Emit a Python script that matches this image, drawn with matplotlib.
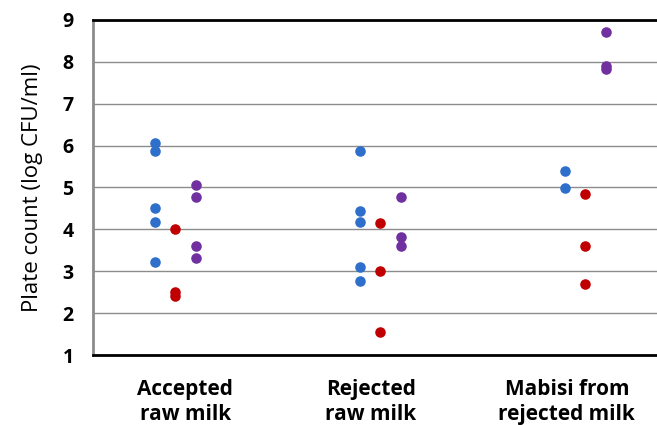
import matplotlib
matplotlib.use("Agg")
import matplotlib.pyplot as plt

categories = ["Accepted\nraw milk", "Rejected\nraw milk", "Mabisi from\nrejected milk"]
blue_vals = [
    [6.06, 5.88, 4.51, 4.18, 3.22],
    [5.88, 4.43, 4.18, 3.11, 2.77],
    [5.39, 4.98],
]
red_vals = [
    [4.02, 2.50, 2.42],
    [4.16, 3.00, 1.54],
    [4.84, 3.60, 2.69],
]
purple_vals = [
    [5.06, 4.78, 3.61, 3.32],
    [4.78, 3.81, 3.60],
    [8.72, 7.90, 7.83],
]
yticks = [1, 2, 3, 4, 5, 6, 7, 8, 9]

plt.rcParams['font.family'] = ['Open Sans', 'DejaVu Sans']

fig = plt.figure(figsize=(6.57, 4.25), dpi=100)
ax = fig.add_axes([0.1416, 0.1647, 0.8584, 0.953 - 0.1647])

series = [(blue_vals, "#2f6fcc", -0.1), (red_vals, "#c00000", 0.0), (purple_vals, "#7030a0", 0.1)]
for vals, color, off in series:
    for i, group in enumerate(vals):
        ax.plot([i + 1 + off] * len(group), group, 'o', color=color, ms=7.6,
                markeredgewidth=0, zorder=3, clip_on=False)

ax.set_ylim(1, 9)
ax.set_xlim(0.6, 3.35)
ax.set_yticks(yticks)
ax.set_yticklabels([str(t) for t in yticks], fontsize=14, fontweight='bold')
ax.yaxis.grid(True, color="#8c8c8c", linewidth=1.0)
ax.set_axisbelow(True)
ax.tick_params(axis='y', length=0, pad=14)
ax.tick_params(axis='x', length=0, pad=17)
ax.set_xticks([1.05, 1.955, 2.91])
ax.set_xticklabels(categories, fontsize=15, fontweight='bold', linespacing=1.3)

ax.spines['right'].set_visible(False)
ax.spines['top'].set_color('black')
ax.spines['top'].set_linewidth(2)
ax.spines['bottom'].set_color('black')
ax.spines['bottom'].set_linewidth(2)
ax.spines['left'].set_color('#8c8c8c')
ax.spines['left'].set_linewidth(2)

ax.set_ylabel("Plate count (log CFU/ml)", fontsize=16, labelpad=14)

fig.savefig("out.png", dpi=100)
